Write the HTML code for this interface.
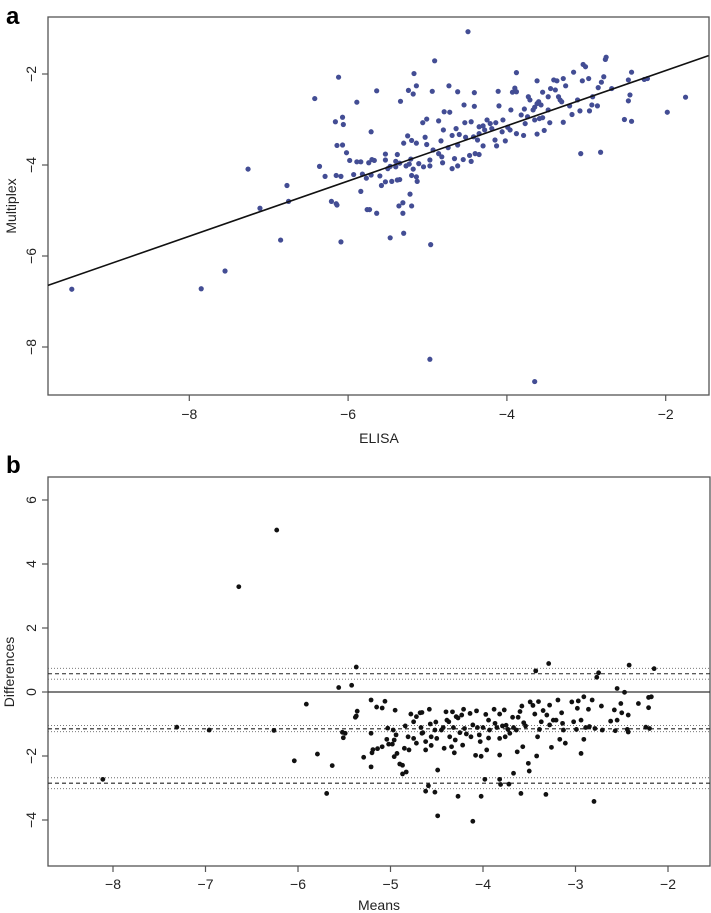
<!DOCTYPE html>
<html><head><meta charset="utf-8"><style>
body{margin:0;background:#fff}
svg{display:block;font-family:"Liberation Sans",sans-serif}
</style></head><body>
<svg id="chart" width="711" height="913" viewBox="0 0 711 913">
<text x="6" y="24" font-size="24" font-weight="bold">a</text>
<text x="6" y="473" font-size="24" font-weight="bold">b</text>
<g id="pa"></g>
<g id="pb"></g>
</svg>
<script>
const aX=[-9.48,-7.85,-7.55,-7.26,-7.11,-6.85,-6.77,-6.75,-6.42,-6.36,-6.29,-6.21,-6.16,-6.15,-6.15,-6.14,-6.14,-6.12,-6.09,-6.09,-6.07,-6.07,-6.06,-6.02,-5.98,-5.93,-5.89,-5.89,-5.84,-5.84,-5.82,-5.77,-5.76,-5.74,-5.73,-5.71,-5.71,-5.7,-5.67,-5.64,-5.64,-5.6,-5.58,-5.53,-5.53,-5.53,-5.5,-5.47,-5.47,-5.45,-5.4,-5.4,-5.38,-5.38,-5.36,-5.35,-5.35,-5.34,-5.31,-5.31,-5.3,-5.3,-5.27,-5.25,-5.24,-5.23,-5.22,-5.21,-5.2,-5.2,-5.2,-5.18,-5.18,-5.17,-5.14,-5.14,-5.14,-5.13,-5.11,
-4.91,-4.94,-4.73,-4.62,-4.41,-4.54,-4.41,-4.79,-4.72,-4.11,-4.1,-3.95,-3.88,-3.93,-3.9,-3.88,-5.01,-5.06,-4.86,-5.03,-4.8,-4.64,-4.53,-4.45,-4.69,-4.6,-4.83,-5.01,-4.93,-4.86,-4.82,-4.97,-5.05,-4.97,-4.81,-4.69,-4.62,-4.66,-4.55,-4.45,-4.47,-4.4,-4.35,-4.62,-4.74,-4.52,-4.42,-4.35,-4.3,-4.37,-4.35,-4.3,-4.25,-4.21,-4.28,-4.19,-4.14,-4.15,-4.13,-4.05,-4.06,-4.02,-3.99,-3.96,-3.88,-3.82,-3.78,-3.79,-3.77,-3.73,-3.71,-3.74,-3.67,-3.65,-3.62,-3.6,-3.57,-3.62,-3.65,-3.62,-3.59,-3.55,-3.55,-3.53,-3.48,-3.46,-3.48,-3.45,-3.41,-3.37,-3.39,-3.35,-3.33,-3.31,-3.29,-3.29,-3.26,-3.21,-3.18,-3.16,-3.11,-3.08,-3.07,-3.05,-3.04,-3.01,-2.97,-2.96,-2.93,-2.92,-2.86,-2.85,-2.82,-2.81,-2.78,-2.76,-2.75,-2.68,-2.52,-2.47,-2.47,-2.45,-2.43,-2.43,-2.27,-2.23,-1.98,-1.75,-4.96,-4.97,-3.65,-4.49];
const aY=[-6.73,-6.72,-6.33,-4.09,-4.95,-5.65,-4.45,-4.8,-2.54,-4.03,-4.25,-4.8,-3.05,-4.23,-4.85,-4.88,-3.57,-2.07,-4.25,-5.69,-2.95,-3.56,-3.11,-3.73,-3.9,-4.21,-2.62,-3.93,-3.93,-4.58,-4.2,-4.29,-4.98,-3.95,-4.98,-3.27,-4.22,-3.88,-3.9,-2.37,-5.06,-4.24,-4.45,-4.37,-3.76,-3.89,-4.08,-4.03,-5.6,-4.36,-4.04,-3.92,-3.77,-4.33,-4.9,-4.32,-3.96,-2.6,-4.83,-5.06,-3.52,-5.5,-4.02,-3.36,-2.36,-3.98,-4.64,-3.87,-3.46,-4.23,-4.9,-4.09,-2.44,-1.99,-3.52,-4.26,-2.26,-4.36,-3.97,
-1.71,-2.38,-2.26,-2.39,-2.41,-2.68,-2.71,-2.83,-2.84,-2.38,-2.7,-2.79,-1.97,-2.4,-2.31,-2.39,-2.99,-3.07,-3.03,-3.39,-3.23,-3.2,-3.07,-3.05,-3.35,-3.33,-3.47,-3.55,-3.67,-3.75,-3.82,-3.89,-4.04,-4.02,-3.95,-4.08,-4.02,-3.86,-3.88,-3.92,-3.79,-3.75,-3.77,-3.56,-3.62,-3.39,-3.38,-3.31,-3.58,-3.45,-3.16,-3.14,-3.01,-3.09,-3.23,-3.2,-3.07,-3.45,-3.58,-3.01,-3.27,-3.47,-3.17,-3.23,-3.31,-2.9,-2.77,-3.35,-3.09,-2.5,-2.57,-2.94,-2.79,-2.73,-2.65,-2.61,-2.68,-2.15,-3.01,-3.32,-2.98,-2.96,-2.4,-3.24,-2.5,-3.07,-2.79,-2.32,-2.13,-2.15,-2.35,-2.5,-2.57,-2.61,-2.1,-3.06,-2.26,-2.7,-2.89,-1.96,-2.57,-2.81,-3.75,-2.15,-1.79,-1.84,-2.1,-2.81,-2.68,-2.5,-2.7,-2.3,-3.72,-2.18,-2.06,-1.68,-1.63,-2.32,-3.0,-2.13,-2.59,-2.46,-1.96,-3.04,-2.12,-2.1,-2.84,-2.51,-5.75,-8.27,-8.76,-1.07];
const aXTicks=[-8,-6,-4,-2];
const aYTicks=[-2,-4,-6,-8];
const fitSlope=0.607, fitIntercept=-0.71;

const bX=[-6.23,-6.64,-8.11,-7.31,-6.96,-6.26,-5.91,-6.04,-5.79,-5.69,-5.63,-5.56,-5.42,-5.37,-5.36,-5.37,-5.38,-5.52,-5.49,-5.51,-5.29,-5.21,-5.15,-5.09,-5.06,-5.21,-5.21,-5.2,-5.19,-5.14,-5.09,-5.04,-5.03,-5.02,
-4.95,-4.97,-4.94,-4.96,-4.98,-4.96,-4.93,-4.9,-4.87,-4.87,-4.83,-4.85,-4.8,-4.84,-4.81,-4.78,-4.75,-4.75,-4.72,-4.68,-4.66,-4.72,-4.67,-4.66,-4.65,-4.62,-4.62,-4.58,-4.57,-4.56,-4.56,-4.51,-4.52,-4.5,-4.49,-4.59,-4.62,-4.52,-4.49,-4.45,-4.43,-4.42,-4.4,-4.39,-4.37,-4.36,-4.34,-4.33,-4.32,-4.31,-4.3,-4.29,-4.27,-4.27,-4.25,-4.23,-4.22,-4.21,-4.2,-4.18,-4.14,-4.13,-4.11,-4.11,-4.08,-4.07,-4.06,-4.04,-4.03,-4.02,-4.02,-4.0,-3.98,-3.97,-3.96,-3.94,-3.94,-3.93,-3.88,-3.87,-3.85,-3.82,-3.82,-3.82,-3.82,-3.81,-3.79,-3.77,-3.76,-3.75,-3.73,-3.72,-3.71,-3.68,-3.67,-3.67,-3.64,-3.63,-3.62,-3.6,-3.59,-3.58,-3.57,-3.56,-3.54,-3.51,-3.5,-3.49,-3.46,-3.44,-3.43,-3.42,-3.41,-3.4,-3.39,-3.37,-3.35,-3.32,-3.31,-3.29,-3.28,-3.28,-3.26,-3.24,-3.21,-3.19,-3.17,-3.15,-3.14,-3.13,-3.11,-3.04,-3.02,-2.99,-2.98,-2.97,-2.94,-2.94,-2.91,-2.91,-2.89,-2.86,-2.85,-2.82,-2.8,-2.79,-2.77,-2.75,-2.72,-2.71,-2.62,-2.58,-2.57,-2.55,-2.55,-2.51,-2.5,-2.47,-2.43,-2.43,-2.44,-2.42,-2.32,-2.24,-2.2,-2.21,-2.21,-2.18,-2.15];
const bY=[5.06,3.29,-2.73,-1.1,-1.19,-1.2,-0.38,-2.15,-1.94,-3.17,-2.3,0.14,0.21,0.78,-0.6,-0.75,-0.79,-1.26,-1.29,-1.43,-2.04,-0.25,-0.47,-0.5,-0.29,-1.29,-2.34,-1.9,-1.8,-1.77,-1.71,-1.48,-1.13,-1.63,
-0.57,-1.19,-1.34,-1.5,-1.63,-2.02,-1.92,-2.25,-2.29,-2.56,-2.5,-1.76,-1.81,-1.06,-1.4,-0.69,-1.45,-0.93,-0.77,-0.65,-0.64,-1.6,-1.11,-1.29,-1.27,-1.55,-1.81,-0.54,-1.0,-1.4,-1.67,-0.94,-1.19,-1.45,-2.44,-2.93,-3.1,-3.13,-3.87,-1.19,-1.11,-1.76,-0.62,-0.88,-0.93,-1.4,-1.71,-0.62,-1.11,-1.9,-1.5,-0.77,-0.81,-3.26,-1.27,-0.72,-1.66,-0.54,-1.14,-1.31,-0.67,-1.4,-1.03,-4.04,-1.98,-0.59,-1.11,-1.34,-1.55,-2.01,-3.26,-1.11,-2.73,-0.7,-1.81,-0.88,-1.44,-1.19,-0.54,-0.98,-1.11,-0.69,-1.45,-1.97,-2.73,-2.89,-1.06,-0.56,-1.4,-1.04,-1.17,-2.88,-1.29,-0.79,-2.54,-1.11,-1.19,-1.87,-0.79,-0.61,-3.17,-0.44,-1.71,-0.96,-1.06,-2.23,-2.47,-0.31,-0.42,-0.69,0.66,-2.0,-1.4,-0.3,-1.17,-0.93,-0.58,-3.2,-0.72,0.89,-0.41,-1.03,-1.73,-0.88,-0.88,-0.25,-1.48,-0.65,-0.98,-1.19,-1.6,-0.31,-0.93,-1.17,-0.51,-0.28,-1.92,-0.88,-1.48,-0.15,-1.11,-0.54,-1.08,-0.25,-3.42,-1.14,0.46,0.6,-0.44,-1.19,-0.91,-0.56,-1.21,0.11,-0.88,-0.36,-0.65,-0.01,-0.72,-1.25,-1.17,0.84,-0.36,-1.1,-1.14,-0.49,-0.17,-0.15,0.73];
const bXTicks=[-8,-7,-6,-5,-4,-3,-2];
const bYTicks=[6,4,2,0,-2,-4];
const meanDiff=-1.15, upperLoA=0.57, lowerLoA=-2.85;
const ciMean=[-1.05,-1.24], ciUpper=[0.74,0.40], ciLower=[-2.68,-3.02];

const NS='http://www.w3.org/2000/svg';
function mk(parent,tag,attrs){const e=document.createElementNS(NS,tag);for(const k in attrs)e.setAttribute(k,attrs[k]);parent.appendChild(e);return e;}

// panel a axes
const axA=v=>189.3+(v+8)*79.4;
const ayA=v=>74-(v+2)*45.5;
const axB=v=>113+(v+8)*92.5;
const ayB=v=>692-v*32;

const pa=document.getElementById('pa');
const fr=mk(pa,'rect',{x:48,y:17,width:661,height:378,fill:'none',stroke:'#555','stroke-width':1.3});


aXTicks.forEach(t=>{
  const l=mk(pa,'line',{x1:axA(t),x2:axA(t),y1:395,y2:401,stroke:'#555','stroke-width':1.2});
  
  
  const tx=mk(pa,'text',{x:axA(t),y:419,'font-size':14,'text-anchor':'middle',fill:'#222'});
  tx.textContent='\u2212'+Math.abs(t);
  
  
});
aYTicks.forEach(t=>{
  const l=mk(pa,'line',{x1:42,x2:48,y1:ayA(t),y2:ayA(t),stroke:'#555','stroke-width':1.2});
  
  
  const tx=mk(pa,'text',{x:36,y:ayA(t),'font-size':14,'text-anchor':'middle',fill:'#222',transform:`rotate(-90 36 ${ayA(t)})`});
  tx.textContent='\u2212'+Math.abs(t);
  
  
});
let t1=mk(pa,'text',{x:379,y:443,'font-size':14,'text-anchor':'middle',fill:'#222'});t1.textContent='ELISA';


let t2=mk(pa,'text',{x:16,y:206,'font-size':14,'text-anchor':'middle',fill:'#222',transform:'rotate(-90 16 206)'});t2.textContent='Multiplex';


aX.forEach((x,i)=>{
  const c=mk(pa,'circle',{cx:axA(x),cy:ayA(aY[i]),r:2.6,fill:'#434d94'});
  
  
});
const xl=-9.78,xr=-1.46;
const fl=mk(pa,'line',{x1:axA(xl),y1:ayA(fitIntercept+fitSlope*xl),x2:axA(xr),y2:ayA(fitIntercept+fitSlope*xr),stroke:'#111','stroke-width':1.6});



// panel b
const pb=document.getElementById('pb');
const fb=mk(pb,'rect',{x:48,y:477,width:662,height:389,fill:'none',stroke:'#555','stroke-width':1.3});


bXTicks.forEach(t=>{
  const l=mk(pb,'line',{x1:axB(t),x2:axB(t),y1:866,y2:872,stroke:'#555','stroke-width':1.2});
  
  
  const tx=mk(pb,'text',{x:axB(t),y:889,'font-size':14,'text-anchor':'middle',fill:'#222'});
  tx.textContent='\u2212'+Math.abs(t);
  
  
});
bYTicks.forEach(t=>{
  const l=mk(pb,'line',{x1:42,x2:48,y1:ayB(t),y2:ayB(t),stroke:'#555','stroke-width':1.2});
  
  
  const tx=mk(pb,'text',{x:36,y:ayB(t),'font-size':14,'text-anchor':'middle',fill:'#222',transform:`rotate(-90 36 ${ayB(t)})`});
  tx.textContent=(t<0?'\u2212':'')+Math.abs(t);
  
  
});
let t3=mk(pb,'text',{x:379,y:910,'font-size':14,'text-anchor':'middle',fill:'#222'});t3.textContent='Means';


let t4=mk(pb,'text',{x:14,y:672,'font-size':14,'text-anchor':'middle',fill:'#222',transform:'rotate(-90 14 672)'});t4.textContent='Differences';


const z=mk(pb,'line',{x1:48,x2:710,y1:ayB(0),y2:ayB(0),stroke:'#333','stroke-width':1.2});


[meanDiff,upperLoA,lowerLoA].forEach(v=>{
  const l=mk(pb,'line',{x1:48,x2:710,y1:ayB(v),y2:ayB(v),stroke:'#222','stroke-width':1.1,'stroke-dasharray':'4 3'});
  
  
});
[...ciMean,...ciUpper,...ciLower].forEach(v=>{
  const l=mk(pb,'line',{x1:48,x2:710,y1:ayB(v),y2:ayB(v),stroke:'#666','stroke-width':0.9,'stroke-dasharray':'1 2'});
  
  
});
bX.forEach((x,i)=>{
  const c=mk(pb,'circle',{cx:axB(x),cy:ayB(bY[i]),r:2.4,fill:'#111'});
  
  
});
</script>
</body></html>
